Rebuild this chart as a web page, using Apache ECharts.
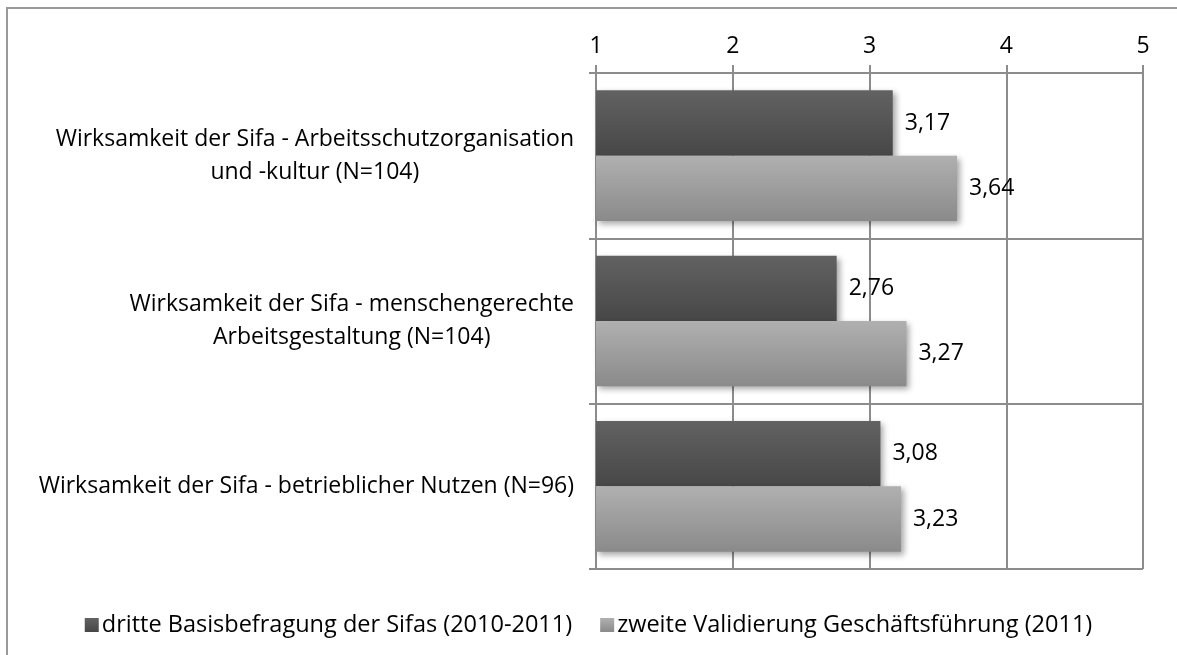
<!DOCTYPE html>
<html>
<head>
<meta charset="utf-8">
<script src="https://cdn.jsdelivr.net/npm/echarts@6/dist/echarts.min.js"></script>
<style>html,body{margin:0;padding:0;background:#fff;}#c{width:1177px;height:655px;}</style>
</head>
<body>
<div id="c"></div>
<script>
const categories = [
  "Wirksamkeit der Sifa - Arbeitsschutzorganisation\nund -kultur (N=104)",
  "Wirksamkeit der Sifa - menschengerechte\nArbeitsgestaltung (N=104)",
  "Wirksamkeit der Sifa - betrieblicher Nutzen (N=96)"
];
const seriesNames = ["dritte Basisbefragung der Sifas (2010-2011)", "zweite Validierung Geschäftsführung (2011)"];
const basisValues = [3.17, 2.76, 3.08];
const validierungValues = [3.64, 3.27, 3.23];
const axisMin = 1, axisMax = 5, axisStep = 1;

const FONT = "Open Sans";
const chart = echarts.init(document.getElementById('c'));
function grad(top, bottom) {
  return new echarts.graphic.LinearGradient(0, 0, 0, 1, [{offset: 0, color: top}, {offset: 1, color: bottom}]);
}
const labelCfg = {
  show: true, position: 'right', distance: 12, color: '#000', fontFamily: FONT, fontSize: 23,
  formatter: p => p.value.toFixed(2).replace('.', ',')
};
const shadow = {shadowColor: 'rgba(0,0,0,0.35)', shadowBlur: 6, shadowOffsetX: 3, shadowOffsetY: 3};
chart.setOption({
  animation: false,
  textStyle: {fontFamily: FONT},
  graphic: [{type: 'polyline', shape: {points: [[7, 700], [7, 8], [1300, 8]]}, style: {fill: 'none', stroke: '#999', lineWidth: 2}, silent: true}],
  grid: {left: 596, right: 34, top: 73, bottom: 86},
  legend: {
    bottom: 13, left: 'center', icon: 'rect', itemWidth: 14, itemHeight: 14, itemGap: 28,
    textStyle: {fontFamily: FONT, fontSize: 23.5, color: '#000', padding: [0, 0, 0, -2]},
    data: seriesNames
  },
  xAxis: {
    type: 'value', position: 'top', min: axisMin, max: axisMax, interval: axisStep,
    axisLine: {show: true, lineStyle: {color: '#8c8c8c', width: 2}},
    axisTick: {show: true, length: 8, lineStyle: {color: '#8c8c8c', width: 2}},
    splitLine: {show: true, lineStyle: {color: '#8c8c8c', width: 2}},
    axisLabel: {color: '#000', fontFamily: FONT, fontSize: 23, margin: 15}
  },
  yAxis: {
    type: 'category', inverse: true, data: categories,
    axisLine: {show: true, lineStyle: {color: '#8c8c8c', width: 2}},
    axisTick: {show: true, length: 7, lineStyle: {color: '#8c8c8c', width: 2}},
    splitLine: {show: true, lineStyle: {color: '#8c8c8c', width: 2}},
    axisLabel: {
      margin: 22, align: 'right', color: '#000', fontFamily: FONT, fontSize: 23, lineHeight: 33,
      formatter: v => v.split('\n').map(l => '{c|' + l + '}').join('\n'),
      rich: {c: {align: 'center', fontFamily: FONT, fontSize: 23, color: '#000', lineHeight: 33}}
    }
  },
  series: [
    {name: seriesNames[0], type: 'bar', data: basisValues, barGap: '0%', barCategoryGap: '21%',
     itemStyle: Object.assign({color: grad('#626262', '#474747')}, shadow), label: labelCfg},
    {name: seriesNames[1], type: 'bar', data: validierungValues, barGap: '0%', barCategoryGap: '21%',
     itemStyle: Object.assign({color: grad('#b0b0b0', '#8a8a8a')}, shadow), label: labelCfg}
  ]
});
</script>
</body>
</html>
